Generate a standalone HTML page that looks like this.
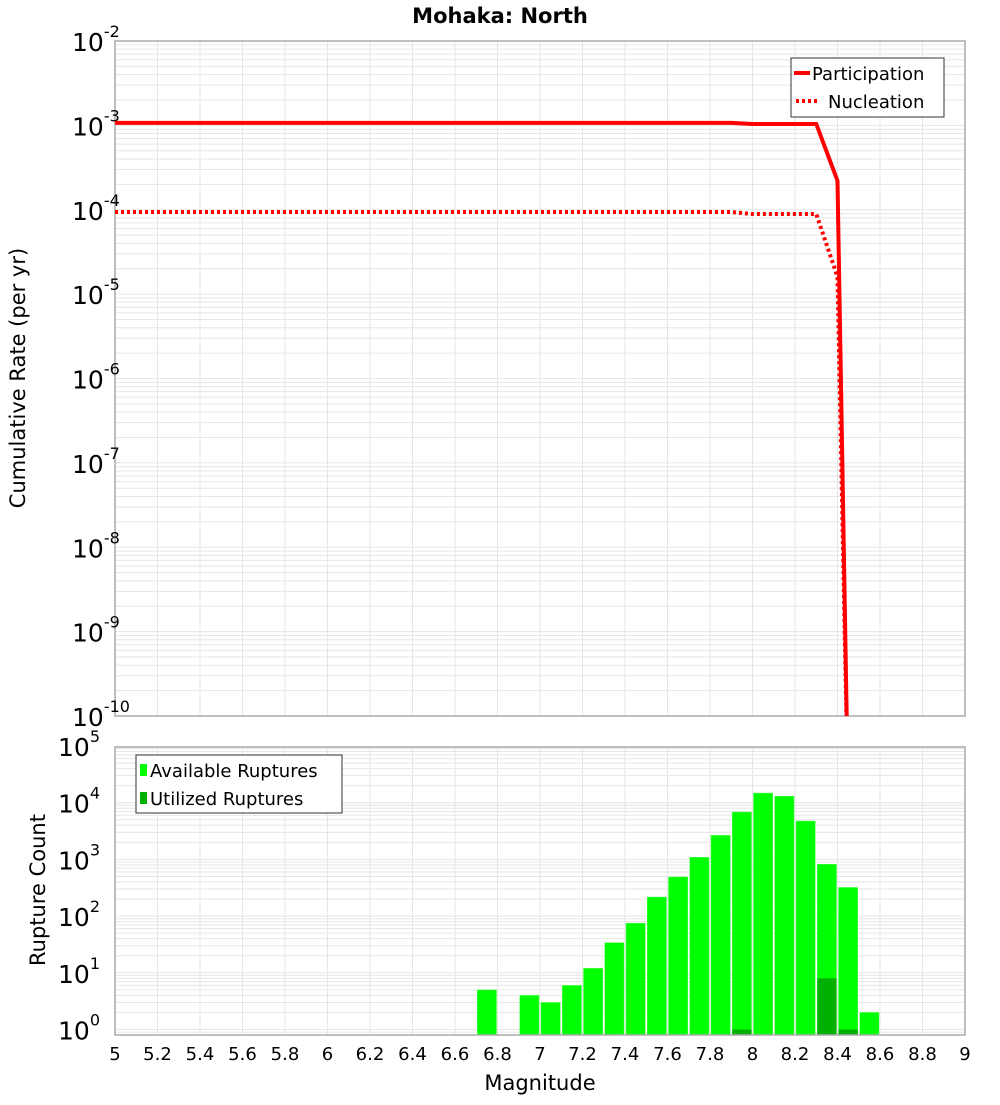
<!DOCTYPE html>
<html><head><meta charset="utf-8">
<style>
html,body{margin:0;padding:0;background:#fff;}
svg text{font-family:"DejaVu Sans","Liberation Sans",sans-serif;}
</style></head>
<body>
<svg id="chart" width="1000" height="1100" xmlns="http://www.w3.org/2000/svg">
<text x="500" y="23" text-anchor="middle" font-size="21" font-weight="bold">Mohaka: North</text>
<g id="topPanel"></g>
<g id="botPanel"></g>
<text transform="translate(25,378) rotate(-90)" text-anchor="middle" font-size="21">Cumulative Rate (per yr)</text>
<text transform="translate(45,890) rotate(-90)" text-anchor="middle" font-size="21">Rupture Count</text>
<text x="540" y="1090" text-anchor="middle" font-size="21">Magnitude</text>
</svg>
<script>
// Top chart data
const partMags = [5.0, 7.9, 8.0, 8.3, 8.4, 8.45];
const partRates = [1.07e-3, 1.07e-3, 1.04e-3, 1.04e-3, 2.2e-4, 1e-11];
const nuclMags = [5.0, 7.9, 8.0, 8.3, 8.4, 8.45];
const nuclRates = [9.4e-5, 9.4e-5, 8.9e-5, 8.9e-5, 1.6e-5, 1e-11];
const topTickExps = [-2,-3,-4,-5,-6,-7,-8,-9,-10];
// Bottom chart data
const binCenters = [6.75,6.95,7.05,7.15,7.25,7.35,7.45,7.55,7.65,7.75,7.85,7.95,8.05,8.15,8.25,8.35,8.45,8.55];
const availCounts = [5,4,3,6,12,34,75,217,490,1090,2660,6850,14800,13000,4750,820,320,2];
const usedBins = [7.95, 8.35, 8.45];
const usedCounts = [1, 8, 1];
const botTickExps = [5,4,3,2,1,0];
const xTicks = [5,5.2,5.4,5.6,5.8,6,6.2,6.4,6.6,6.8,7,7.2,7.4,7.6,7.8,8,8.2,8.4,8.6,8.8,9];
const xTickLabels = ["5","5.2","5.4","5.6","5.8","6","6.2","6.4","6.6","6.8","7","7.2","7.4","7.6","7.8","8","8.2","8.4","8.6","8.8","9"];

const NS="http://www.w3.org/2000/svg";
const L=115,R=965;
const xs=m=>L+(m-5)/4*(R-L);
const T1=41,B1=716;
const yTop=v=>B1-(Math.log10(v)+10)/8*(B1-T1);
const T2=747,B2=1035,D2=56.7,Y0=1029.5;
const yBot=v=>Y0-Math.log10(v)*D2;
function mk(p,tag,a){const e=document.createElementNS(NS,tag);for(const k in a)e.setAttribute(k,a[k]);p.appendChild(e);return e;}
const topG=document.getElementById('topPanel'), botG=document.getElementById('botPanel');

function grid(g,T,B,yf,eMin,eMax){
  for(let e=eMin;e<eMax;e++)for(let k=1;k<10;k++){const y=yf(k*Math.pow(10,e));if(y>=T&&y<=B){
    const l=mk(g,'line',{x1:L,x2:R,y1:y,y2:y,stroke:'#e6e6e6','stroke-width':1});
    
    }}
  xTicks.forEach(m=>{const l=mk(g,'line',{x1:xs(m),x2:xs(m),y1:T,y2:B,stroke:'#e6e6e6','stroke-width':1});
    
    });
}
// top panel
grid(topG,T1,B1,yTop,-10,-1);
const tb=mk(topG,'rect',{x:L,y:T1,width:R-L,height:B1-T1,fill:'none',stroke:'#aaa','stroke-width':1.5});


topTickExps.forEach(e=>{
  const y=yTop(Math.pow(10,e));
  const t=mk(topG,'text',{x:72,y:y+10,'font-size':25});
  
  
  t.textContent='10';
  const s=mk(t,'tspan',{dy:-14,'font-size':16});s.textContent=String(e);
});
const clip=mk(topG,'clipPath',{id:'c1'});mk(clip,'rect',{x:L,y:T1,width:R-L,height:B1-T1});
function line(mags,vals,dash,name){
  const d=mags.map((m,i)=>(i?'L':'M')+xs(m)+','+yTop(vals[i])).join(' ');
  const p=mk(topG,'path',{d:d,fill:'none',stroke:'#ff0000','stroke-width':4,'clip-path':'url(#c1)'});
  if(dash)p.setAttribute('stroke-dasharray','3,3');
  
  
}
line(nuclMags,nuclRates,true,'nucleation-line');
line(partMags,partRates,false,'participation-line');
// top legend
const lg=mk(topG,'g',{});


mk(lg,'rect',{x:791,y:58,width:153,height:59,fill:'#fff',stroke:'#333','stroke-width':1});
mk(lg,'line',{x1:794,x2:810,y1:73,y2:73,stroke:'#f00','stroke-width':4});
mk(lg,'line',{x1:796,x2:820,y1:101,y2:101,stroke:'#f00','stroke-width':4,'stroke-dasharray':'3,3'});
const lt1=mk(lg,'text',{x:812,y:80,'font-size':18});lt1.textContent='Participation';


const lt2=mk(lg,'text',{x:828,y:108,'font-size':18});lt2.textContent='Nucleation';



// bottom panel
grid(botG,T2,B2,yBot,-1,5);
const bw=xs(5.1)-xs(5)-2;
binCenters.forEach((m,i)=>{
  const y=yBot(availCounts[i]);
  const r=mk(botG,'rect',{x:xs(m)-bw/2,y:y,width:bw,height:B2-y,fill:'#00ff00',stroke:'#55ff55','stroke-width':0.5});
  
  
});
usedBins.forEach((m,i)=>{
  const y=yBot(usedCounts[i]);
  const r=mk(botG,'rect',{x:xs(m)-bw/2,y:y,width:bw,height:B2-y,fill:'#00b000'});
  
  
});
const bb=mk(botG,'rect',{x:L,y:T2,width:R-L,height:B2-T2,fill:'none',stroke:'#aaa','stroke-width':1.5});


botTickExps.forEach(e=>{
  const y=yBot(Math.pow(10,e));
  const t=mk(botG,'text',{x:58,y:y+10,'font-size':25});
  
  
  t.textContent='10';
  const s=mk(t,'tspan',{dy:-14,'font-size':16});s.textContent=String(e);
});
xTicks.forEach((m,i)=>{
  const t=mk(botG,'text',{x:xs(m),y:1060,'text-anchor':'middle','font-size':18});
  t.textContent=xTickLabels[i];
  
  
});
const lg2=mk(botG,'g',{});


mk(lg2,'rect',{x:136,y:755,width:206,height:58,fill:'#fff',stroke:'#333','stroke-width':1});
mk(lg2,'rect',{x:140,y:764,width:7,height:12,fill:'#00ff00'});
mk(lg2,'rect',{x:140,y:792,width:7,height:12,fill:'#00b000'});
const b1=mk(lg2,'text',{x:150,y:777,'font-size':18});b1.textContent='Available Ruptures';


const b2=mk(lg2,'text',{x:150,y:805,'font-size':18});b2.textContent='Utilized Ruptures';


</script>
</body></html>
